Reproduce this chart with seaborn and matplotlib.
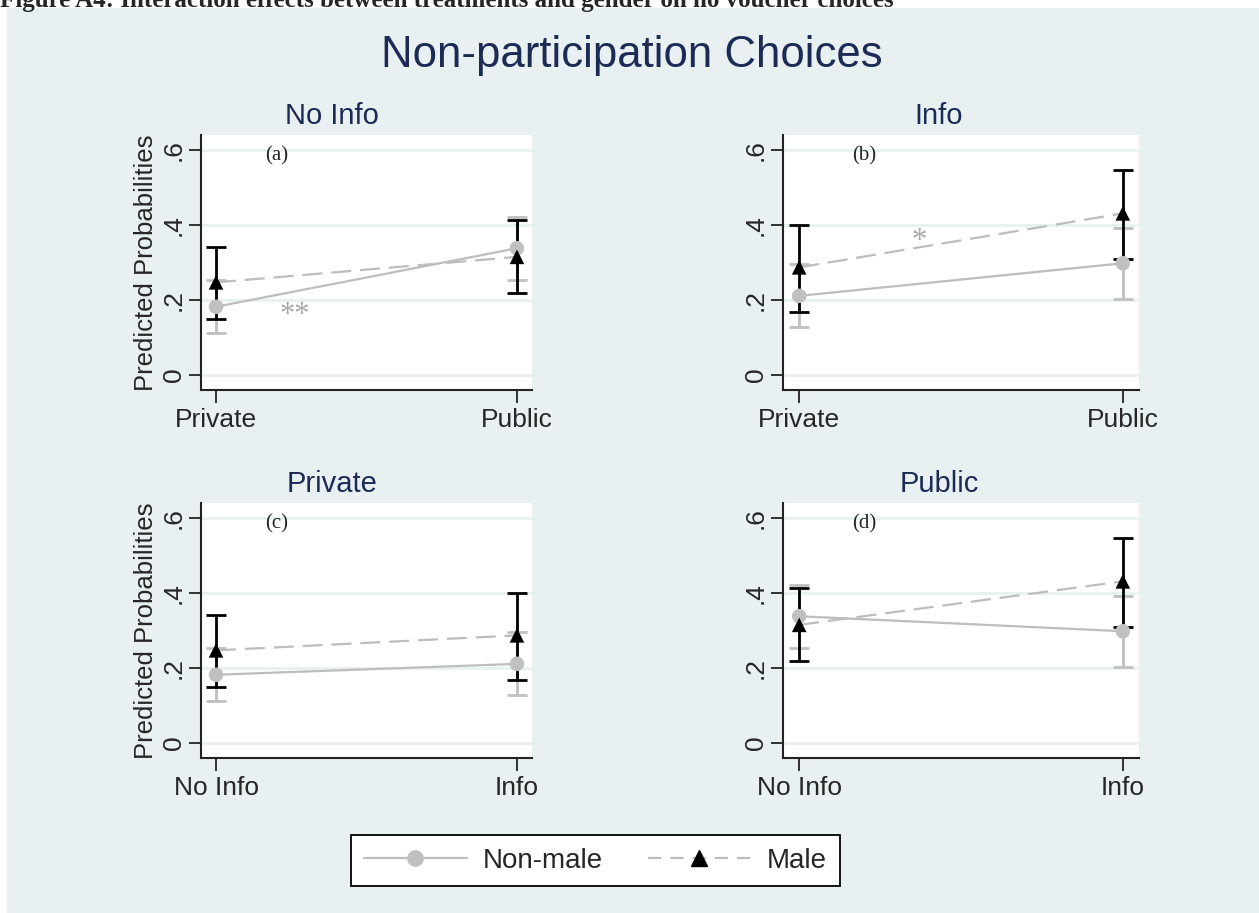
import matplotlib
matplotlib.use("Agg")
import matplotlib.pyplot as plt
from matplotlib.lines import Line2D
from matplotlib.patches import Rectangle
import seaborn as sns
import pandas as pd

# predicted probabilities, rows = info treatment, cols = visibility
info_levels = ["No Info", "Info"]
vis_levels = ["Private", "Public"]
genders = ["Non-male", "Male"]

nonmale_prob = [[0.182, 0.338], [0.211, 0.298]]
nonmale_lo = [[0.112, 0.253], [0.127, 0.202]]
nonmale_hi = [[0.253, 0.422], [0.295, 0.393]]
male_prob = [[0.247, 0.315], [0.287, 0.431]]
male_lo = [[0.149, 0.218], [0.169, 0.309]]
male_hi = [[0.342, 0.413], [0.401, 0.546]]

panel_titles = ["No Info", "Info", "Private", "Public"]
panel_tags = ["(a)", "(b)", "(c)", "(d)"]
y_ticks = [0, 0.2, 0.4, 0.6]
y_ticklabels = ["0", ".2", ".4", ".6"]

rows = []
for i, inf in enumerate(info_levels):
    for j, vis in enumerate(vis_levels):
        rows.append(dict(info=inf, vis=vis, gender="Non-male", prob=nonmale_prob[i][j],
                         lo=nonmale_lo[i][j], hi=nonmale_hi[i][j]))
for i, inf in enumerate(info_levels):
    for j, vis in enumerate(vis_levels):
        rows.append(dict(info=inf, vis=vis, gender="Male", prob=male_prob[i][j],
                         lo=male_lo[i][j], hi=male_hi[i][j]))
df = pd.DataFrame(rows)
df["vis_x"] = df["vis"].map({v: k for k, v in enumerate(vis_levels)})
df["info_x"] = df["info"].map({v: k for k, v in enumerate(info_levels)})

BG = "#e8f0f2"
GREY = "#c0c0c0"
LINEGREY = "#bdbdbd"
NAVY = "#1c2b55"
FONT = "Liberation Sans"

sns.set_theme(style="white")
plt.rcParams["font.family"] = [FONT, "DejaVu Sans"]

W, H = 1259, 913
fig = plt.figure(figsize=(W / 100, H / 100), dpi=100)
fig.patch.set_facecolor("white")
fig.patches.append(Rectangle((7 / W, 0), 1, 1 - 8 / H, transform=fig.transFigure,
                             facecolor=BG, edgecolor="none", zorder=-10))

# caption of the page, cut at the top edge as in the source
fig.text(0, 1 - 7 / H,
         "Figure A4: Interaction effects between treatments and gender on no voucher choices",
         fontsize=18, fontweight="bold", family="Liberation Serif", va="baseline", ha="left")
fig.text(632 / W, 1 - 55 / H, "Non-participation Choices", fontsize=31.5, color=NAVY,
         ha="center", va="center")


def rect(l, t, r, b):
    return [l / W, 1 - b / H, (r - l) / W, (b - t) / H]


boxes = [rect(201, 135, 532, 390), rect(783, 135, 1139, 390),
         rect(201, 503, 532, 758), rect(783, 503, 1139, 758)]
title_pos = [(332, 116), (939, 116), (332, 484), (939, 484)]
star_text = [("**", 0.26, 0.16), ("*", 0.37, 0.355), None, None]

for k in range(4):
    ax = fig.add_axes(boxes[k])
    if k == 0:
        sub, xcol, xlabels = df[df["info"] == "No Info"], "vis_x", vis_levels
    elif k == 1:
        sub, xcol, xlabels = df[df["info"] == "Info"], "vis_x", vis_levels
    elif k == 2:
        sub, xcol, xlabels = df[df["vis"] == "Private"], "info_x", info_levels
    else:
        sub, xcol, xlabels = df[df["vis"] == "Public"], "info_x", info_levels

    ax.set_facecolor("white")
    for yt in y_ticks:
        ax.axhline(yt, color=BG, lw=2, zorder=0)

    for g, col, z in [("Non-male", GREY, 2), ("Male", "black", 3)]:
        s = sub[sub["gender"] == g]
        ax.errorbar(s[xcol], s["prob"], yerr=[s["prob"] - s["lo"], s["hi"] - s["prob"]],
                    fmt="none", ecolor=col, elinewidth=2.0, capsize=7, capthick=2.0, zorder=z)

    sns.lineplot(data=sub, x=xcol, y="prob", hue="gender", style="gender",
                 palette={"Non-male": LINEGREY, "Male": LINEGREY},
                 dashes={"Non-male": "", "Male": (9, 4)}, lw=1.6,
                 legend=False, ax=ax, zorder=4)
    sns.scatterplot(data=sub, x=xcol, y="prob", hue="gender", style="gender",
                    palette={"Non-male": GREY, "Male": "black"},
                    markers={"Non-male": "o", "Male": "^"}, s=110, linewidth=0,
                    legend=False, ax=ax, zorder=5)

    ax.text(0.2, 0.585, panel_tags[k], family="Liberation Serif", fontsize=15,
            ha="center", va="center")
    if star_text[k] is not None:
        txt, sx, sy = star_text[k]
        ax.text(sx, sy, txt, family="Liberation Serif", fontsize=22, color="#a8a8a8",
                ha="center", va="center")

    ax.set_xlim(-0.05, 1.05)
    ax.set_ylim(-0.04, 0.64)
    ax.set_xticks([0, 1])
    ax.set_xticklabels(xlabels)
    ax.set_yticks(y_ticks)
    ax.set_yticklabels(y_ticklabels, rotation=90, va="center")
    ax.tick_params(axis="both", which="major", length=9, width=1.3, color="#222222",
                   labelsize=19, direction="out", left=True, bottom=True)
    ax.tick_params(axis="x", pad=4)
    ax.tick_params(axis="y", pad=2)
    ax.set_xlabel("")
    for sp in ["top", "right"]:
        ax.spines[sp].set_visible(False)
    for sp in ["left", "bottom"]:
        ax.spines[sp].set_color("#222222")
        ax.spines[sp].set_linewidth(1.5)
    if k in (0, 2):
        ax.set_ylabel("Predicted Probabilities", fontsize=18.5)
        ax.yaxis.set_label_coords(-0.13, 0.5)
    else:
        ax.set_ylabel("")

    tx, ty = title_pos[k]
    fig.text(tx / W, 1 - ty / H, panel_titles[k], fontsize=21, color=NAVY,
             ha="center", va="center")

handles = [Line2D([], [], color=LINEGREY, lw=1.6, marker="o", markersize=11,
                  markerfacecolor=GREY, markeredgecolor=GREY),
           Line2D([], [], color=LINEGREY, lw=1.6, ls=(0, (6, 4)), marker="^", markersize=11,
                  markerfacecolor="black", markeredgecolor="black")]
leg = fig.legend(handles, genders, loc="center", bbox_to_anchor=(595.5 / W, 1 - 860.5 / H),
                 ncol=2, fontsize=20, frameon=True, fancybox=False, framealpha=1,
                 handlelength=3.7, handletextpad=0.6, columnspacing=1.6, borderpad=0.45)
leg.get_frame().set_edgecolor("black")
leg.get_frame().set_linewidth(1.3)
leg.get_frame().set_facecolor("white")

fig.savefig("out.png", dpi=100, facecolor=fig.get_facecolor())
